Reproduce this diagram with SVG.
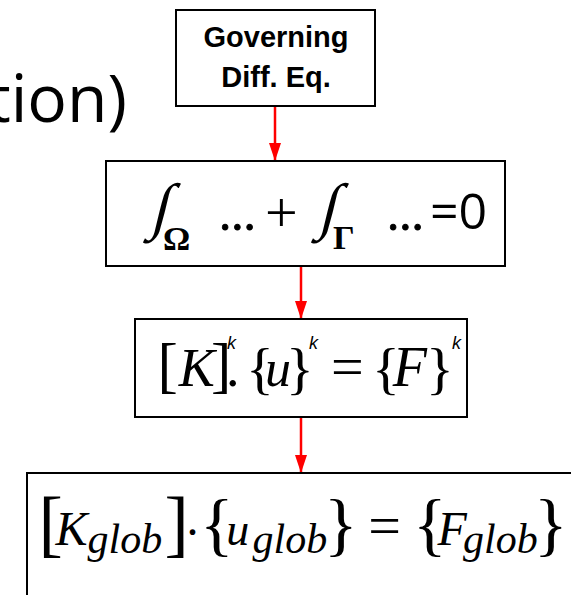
<svg xmlns="http://www.w3.org/2000/svg" width="571" height="595" viewBox="0 0 571 595">
<style>
.box{fill:#fff;stroke:#000;stroke-width:2}
.lbl{font-family:"Liberation Sans",Arial,sans-serif;font-weight:bold;font-size:29px;fill:#000;text-anchor:middle}
.m{font-family:"Liberation Serif","Times New Roman",serif;fill:#000}
.i{font-style:italic}
.b{font-weight:bold}
.sup{font-family:"Liberation Sans",Arial,sans-serif;font-style:italic;font-size:18px;fill:#000}
.conn{stroke:#ff0000;stroke-width:2.5;fill:none}
</style>
<defs>
<marker id="ah" viewBox="0 0 18 12" refX="18" refY="6" markerWidth="18" markerHeight="12" markerUnits="userSpaceOnUse" orient="auto">
<path d="M0,0 L18,6 L0,12 Z" fill="#ff0000"/>
</marker>
</defs>
<text x="127" y="122" font-family="'Open Sans','Noto Sans',sans-serif" font-size="66" text-anchor="end" fill="#000">tion)</text>
<g id="connectors">
<line class="conn" x1="275" y1="107" x2="275" y2="161" marker-end="url(#ah)"/>
<line class="conn" x1="301" y1="267" x2="301" y2="319" marker-end="url(#ah)"/>
<line class="conn" x1="301" y1="418" x2="301" y2="473" marker-end="url(#ah)"/>
</g>
<g id="n1">
<rect class="box" x="176" y="10" width="199" height="96"/>
<text class="lbl" x="276" y="47">Governing</text>
<text class="lbl" x="276" y="87">Diff. Eq.</text>
</g>
<g id="n2">
<rect class="box" x="106" y="161" width="399" height="105"/>
<text class="m" font-size="62" transform="translate(150,227) skewX(-14)">∫</text>
<text class="m b" x="163" y="250" font-size="34">Ω</text>
<text class="m" x="219" y="230" font-size="49" stroke="#000" stroke-width="0.8">...</text>
<text class="m" x="265" y="232" font-size="58">+</text>
<text class="m" font-size="62" transform="translate(318,227) skewX(-14)">∫</text>
<text class="m b" x="333" y="249" font-size="34">Γ</text>
<text class="m" x="387" y="230" font-size="49" stroke="#000" stroke-width="0.8">...</text>
<text x="430" y="229" font-family="'Open Sans','Noto Sans',sans-serif" font-size="50" fill="#000">=0</text>
</g>
<g id="n3">
<rect class="box" x="135" y="319" width="332" height="98"/>
<text class="m" font-size="61" x="157.6" y="386">[</text>
<text class="m i" font-size="54" x="178.7" y="386">K</text>
<text class="m" font-size="61" x="211" y="386">]</text>
<text class="m" font-size="54" x="226" y="386">.</text>
<text class="m" font-size="58" x="246" y="388">{</text>
<text class="m i" font-size="52" x="265" y="386">u</text>
<text class="m" font-size="58" x="286" y="388">}</text>
<text class="m" font-size="58" x="331" y="386">=</text>
<text class="m" font-size="58" x="372" y="388">{</text>
<text class="m i" font-size="56" x="392.7" y="386">F</text>
<text class="m" font-size="58" x="426" y="388">}</text>
<text class="sup" x="227" y="349">k</text>
<text class="sup" x="309" y="349">k</text>
<text class="sup" x="452" y="349">k</text>
</g>
<g id="n4">
<rect class="box" x="27" y="473" width="600" height="200"/>
<text class="m" font-size="73" x="38.6" y="548">[</text>
<text class="m i" font-size="48" x="55.6" y="545">K</text>
<text class="m i" font-size="42" x="87.5" y="553">glob</text>
<text class="m" font-size="73" x="164.5" y="548">]</text>
<text class="m" font-size="48" x="186.6" y="535">.</text>
<text class="m" font-size="70" x="200" y="548">{</text>
<text class="m i" font-size="46" x="226.3" y="545">u</text>
<text class="m i" font-size="42" x="252.5" y="553">glob</text>
<text class="m" font-size="70" x="323.9" y="548">}</text>
<text class="m" font-size="58" x="368.3" y="545">=</text>
<text class="m" font-size="70" x="413" y="548">{</text>
<text class="m i" font-size="48" x="437.6" y="545">F</text>
<text class="m i" font-size="42" x="463" y="553">glob</text>
<text class="m" font-size="70" x="534" y="548">}</text>
</g>
</svg>
